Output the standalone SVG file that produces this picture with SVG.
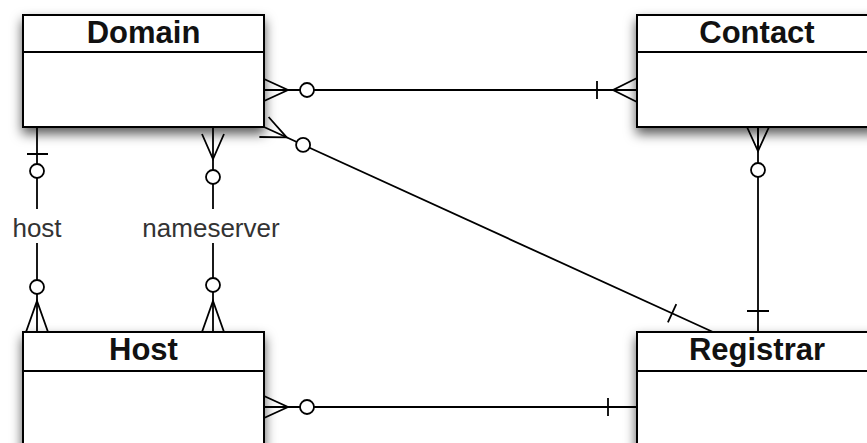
<svg xmlns="http://www.w3.org/2000/svg" width="867" height="443" viewBox="0 0 867 443">
<defs>
<filter id="sh" x="-20%" y="-20%" width="140%" height="150%">
<feDropShadow dx="0" dy="6" stdDeviation="6" flood-color="#000" flood-opacity="0.65"/>
</filter>
</defs>
<style>
.box{fill:#fff;stroke:#000;stroke-width:2;filter:url(#sh)}
.div{stroke:#000;stroke-width:2}
.title{font-family:"Liberation Sans",Arial,sans-serif;font-weight:bold;font-size:31px;text-anchor:middle;fill:#111}
.lbl{font-family:"Liberation Sans",Arial,sans-serif;font-size:26px;text-anchor:middle;fill:#333}
.ln{stroke:#000;stroke-width:1.8;fill:none}
.cir{fill:#fff;stroke:#000;stroke-width:1.8}
</style>
<rect width="867" height="443" fill="#fff"/>
<g id="connectors">
<!-- Domain - Contact -->
<line class="ln" x1="264" y1="90" x2="637" y2="90"/>
<path class="ln" d="M264,79 L288,90 L264,101 M264,90 L288,90"/>
<circle class="cir" cx="307" cy="90" r="7"/>
<path class="ln" d="M637,78 L613,90 L637,102 M597,81 L597,99"/>
<!-- Host - Registrar -->
<line class="ln" x1="264" y1="407" x2="637" y2="407"/>
<path class="ln" d="M264,396 L288,407 L264,418 M264,407 L288,407"/>
<circle class="cir" cx="307" cy="407" r="7"/>
<path class="ln" d="M608,398 L608,416"/>
<!-- Contact - Registrar -->
<line class="ln" x1="758" y1="127" x2="758" y2="332"/>
<path class="ln" d="M747,127 L758,151 L769,127 M758,127 L758,151 M747,311 L769,311"/>
<circle class="cir" cx="758" cy="170" r="7"/>
<!-- Domain - Registrar -->
<line class="ln" x1="264" y1="127" x2="713" y2="332"/>
<path class="ln" d="M259.4,137 L286.7,137.4 L268.6,117 M667.9,322.4 L676.3,304.2"/>
<circle class="cir" cx="303.1" cy="144.9" r="7"/>
<!-- host -->
<line class="ln" x1="37" y1="127" x2="37" y2="209"/>
<line class="ln" x1="37" y1="243" x2="37" y2="332"/>
<path class="ln" d="M27,154 L48,154 M26,332 L37,301 L48,332"/>
<circle class="cir" cx="37" cy="171" r="7"/>
<circle class="cir" cx="37" cy="287" r="7"/>
<text class="lbl" x="37" y="237">host</text>
<!-- nameserver -->
<line class="ln" x1="213" y1="127" x2="213" y2="209"/>
<line class="ln" x1="213" y1="243" x2="213" y2="332"/>
<path class="ln" d="M202,134 L213,159 L224,134 M202,332 L213,301 L224,332"/>
<circle class="cir" cx="213" cy="177" r="7"/>
<circle class="cir" cx="213" cy="285" r="7"/>
<text class="lbl" x="211" y="237">nameserver</text>
</g>
<g id="domain">
<rect class="box" x="23" y="15" width="241" height="112"/>
<line class="div" x1="23" y1="52" x2="264" y2="52"/>
<text class="title" x="143.5" y="43">Domain</text>
</g>
<g id="contact">
<rect class="box" x="637" y="15" width="241" height="112"/>
<line class="div" x1="637" y1="52" x2="878" y2="52"/>
<text class="title" x="757" y="43">Contact</text>
</g>
<g id="host">
<rect class="box" x="23" y="332" width="241" height="130"/>
<line class="div" x1="23" y1="371" x2="264" y2="371"/>
<text class="title" x="143.5" y="360">Host</text>
</g>
<g id="registrar">
<rect class="box" x="637" y="332" width="241" height="130"/>
<line class="div" x1="637" y1="371" x2="878" y2="371"/>
<text class="title" x="757" y="360">Registrar</text>
</g>
</svg>
